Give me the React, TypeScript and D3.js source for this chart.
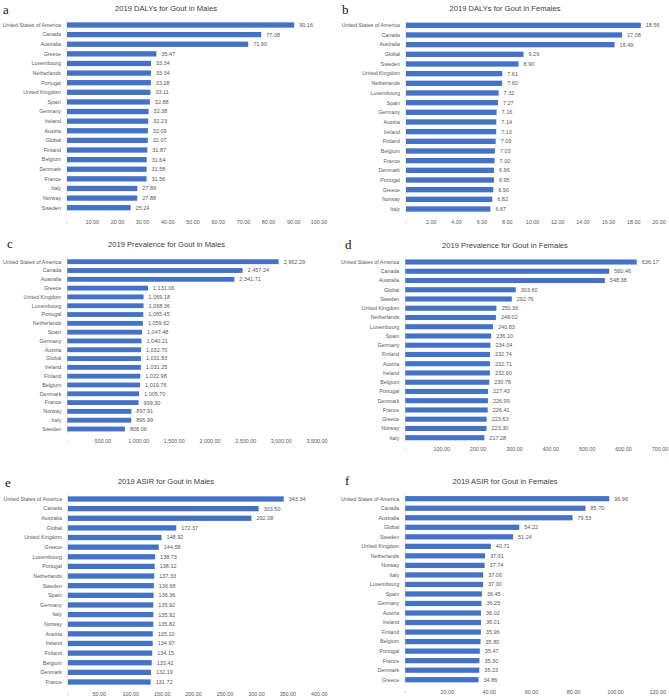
import React from "react";
import * as d3 from "d3";

// ---------- Data ----------
const dalysMaleCountries = ["United States of America","Canada","Australia","Greece","Luxembourg","Netherlands","Portugal","United Kingdom","Spain","Germany","Ireland","Austria","Global","Finland","Belgium","Denmark","France","Italy","Norway","Sweden"];
const dalysMaleValues = [90.16,77.08,71.90,35.47,33.34,33.34,33.28,33.11,32.88,32.38,32.23,32.09,32.07,31.87,31.64,31.58,31.56,27.89,27.88,25.24];
const dalysMaleTicks = [0,10,20,30,40,50,60,70,80,90,100];

const dalysFemaleCountries = ["United States of America","Canada","Australia","Global","Sweden","United Kingdom","Netherlands","Luxembourg","Spain","Germany","Austria","Ireland","Finland","Belgium","France","Denmark","Portugal","Greece","Norway","Italy"];
const dalysFemaleValues = [18.56,17.08,16.49,9.29,8.90,7.61,7.60,7.32,7.27,7.16,7.14,7.13,7.09,7.03,7.00,6.96,6.95,6.90,6.82,6.67];
const dalysFemaleTicks = [0,2,4,6,8,10,12,14,16,18,20];

const prevMaleCountries = ["United States of America","Canada","Australia","Greece","United Kingdom","Luxembourg","Portugal","Netherlands","Spain","Germany","Austria","Global","Ireland","Finland","Belgium","Denmark","France","Norway","Italy","Sweden"];
const prevMaleValues = [2962.29,2457.24,2341.71,1131.06,1069.18,1068.36,1065.45,1059.62,1047.48,1040.21,1032.70,1031.83,1031.25,1022.98,1019.76,1005.70,999.30,897.91,895.99,808.06];
const prevMaleTicks = [0,500,1000,1500,2000,2500,3000,3500];

const prevFemaleCountries = ["United States of America","Canada","Australia","Global","Sweden","United Kingdom","Netherlands","Luxembourg","Spain","Germany","Finland","Austria","Ireland","Belgium","Portugal","Denmark","France","Greece","Norway","Italy"];
const prevFemaleValues = [636.17,560.46,548.38,303.60,292.76,250.36,249.02,240.83,236.10,234.04,232.74,232.71,232.60,230.76,227.43,226.99,226.41,223.63,223.30,217.28];
const prevFemaleTicks = [0,100,200,300,400,500,600,700];

const asirMaleCountries = ["United States of America","Canada","Australia","Global","United Kingdom","Greece","Luxembourg","Portugal","Netherlands","Sweden","Spain","Germany","Italy","Norway","Austria","Ireland","Finland","Belgium","Denmark","France"];
const asirMaleValues = [343.34,303.50,292.08,172.37,148.92,144.58,138.73,138.12,137.33,136.68,136.36,135.92,135.92,135.82,135.10,134.97,134.15,133.41,132.19,131.72];
const asirMaleTicks = [0,50,100,150,200,250,300,350,400];

const asirFemaleCountries = ["United States of America","Canada","Australia","Global","Sweden","United Kingdom","Netherlands","Norway","Italy","Luxembourg","Spain","Germany","Austria","Ireland","Finland","Belgium","Portugal","France","Denmark","Greece"];
const asirFemaleValues = [96.96,85.70,79.53,54.22,51.24,40.71,37.91,37.74,37.06,37.00,36.45,36.25,36.02,36.01,35.96,35.80,35.47,35.30,35.23,34.86];
const asirFemaleTicks = [0,20,40,60,80,100,120];

// ---------- Layout ----------
type Panel = {
  letter: string; title: string; cats: string[]; vals: number[]; ticks: number[];
  x0: number; x1: number; rowTop: number; rowBottom: number; tickY: number;
  titleX: number; titleY: number; letterX: number; letterY: number;
};

const panels: Panel[] = [
  { letter: "a", title: "2019 DALYs for Gout in Males", cats: dalysMaleCountries, vals: dalysMaleValues, ticks: dalysMaleTicks,
    x0: 67, x1: 319, rowTop: 25, rowBottom: 207.7, tickY: 222, titleX: 166, titleY: 10.5, letterX: 3, letterY: 14 },
  { letter: "b", title: "2019 DALYs for Gout in Females", cats: dalysFemaleCountries, vals: dalysFemaleValues, ticks: dalysFemaleTicks,
    x0: 406, x1: 659, rowTop: 25.3, rowBottom: 209, tickY: 222, titleX: 505, titleY: 10.5, letterX: 342, letterY: 14 },
  { letter: "c", title: "2019 Prevalence for Gout in Males", cats: prevMaleCountries, vals: prevMaleValues, ticks: prevMaleTicks,
    x0: 67.3, x1: 317, rowTop: 261.7, rowBottom: 429, tickY: 440.7, titleX: 166.5, titleY: 247, letterX: 7, letterY: 248 },
  { letter: "d", title: "2019 Prevalence for Gout in Females", cats: prevFemaleCountries, vals: prevFemaleValues, ticks: prevFemaleTicks,
    x0: 405.3, x1: 660, rowTop: 262, rowBottom: 437.7, tickY: 449, titleX: 505, titleY: 247.5, letterX: 345, letterY: 249 },
  { letter: "e", title: "2019 ASIR for Gout in Males", cats: asirMaleCountries, vals: asirMaleValues, ticks: asirMaleTicks,
    x0: 67.9, x1: 319.3, rowTop: 499, rowBottom: 682, tickY: 694, titleX: 166, titleY: 484, letterX: 5, letterY: 487 },
  { letter: "f", title: "2019 ASIR for Gout in Females", cats: asirFemaleCountries, vals: asirFemaleValues, ticks: asirFemaleTicks,
    x0: 405.2, x1: 657.7, rowTop: 498.7, rowBottom: 679.7, tickY: 692, titleX: 505, titleY: 484, letterX: 345, letterY: 485 },
];

const BAR = "#4472C4";
const TXT = "#595959";
const FONT = "'Liberation Sans', Arial, sans-serif";
const fmt = d3.format(",.2f");
const tickFmt = (v: number) => (v === 0 ? "-" : fmt(v));

function PanelView({ p }: { p: Panel }) {
  const maxTick = p.ticks[p.ticks.length - 1];
  const x = d3.scaleLinear().domain([0, maxTick]).range([p.x0, p.x1]);
  const n = p.cats.length;
  const step = (p.rowBottom - p.rowTop) / (n - 1);
  const y = d3.scaleBand<string>().domain(p.cats)
    .range([p.rowTop - step / 2, p.rowBottom + step / 2]).paddingInner(0.45).paddingOuter(0.225);
  const bw = y.bandwidth();
  return (
    <g>
      <text x={p.letterX} y={p.letterY} fontFamily="'Liberation Serif', 'Times New Roman', serif" fontSize={13} fill="#111">{p.letter}</text>
      <text x={p.titleX} y={p.titleY} textAnchor="middle" fontFamily={FONT} fontSize={7.6} fill="#404040">{p.title}</text>
      <line x1={p.x0} x2={p.x0} y1={p.rowTop - step / 2} y2={p.rowBottom + step / 2} stroke="#D9D9D9" strokeWidth={0.8} />
      {p.cats.map((c, i) => {
        const yy = (y(c) as number);
        const v = p.vals[i];
        return (
          <g key={c}>
            <rect x={p.x0} y={yy} width={x(v) - p.x0} height={bw} fill={BAR} />
            <text x={p.x0 - 6} y={yy + bw / 2} dy="0.35em" textAnchor="end" fontFamily={FONT} fontSize={5.3} fill={TXT}>{c}</text>
            <text x={x(v) + 5} y={yy + bw / 2} dy="0.35em" fontFamily={FONT} fontSize={5.5} fill={TXT}>{fmt(v)}</text>
          </g>
        );
      })}
      {p.ticks.map((t) => (
        <text key={t} x={x(t)} y={p.tickY} dy="0.35em" textAnchor="middle" fontFamily={FONT} fontSize={5.4} fill={TXT}>{tickFmt(t)}</text>
      ))}
    </g>
  );
}

export default function App() {
  return (
    <svg width={669} height={699} style={{ position: "absolute", left: 0, top: 0, background: "#fff" }}>
      <rect width={669} height={699} fill="#fff" />
      {panels.map((p) => <PanelView key={p.letter} p={p} />)}
    </svg>
  );
}
